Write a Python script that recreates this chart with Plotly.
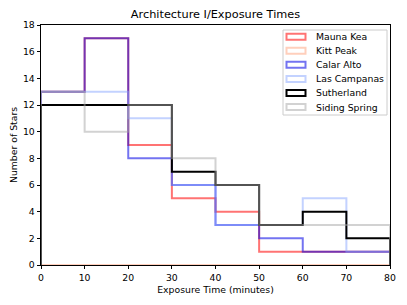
import plotly.graph_objects as go

bin_edges = [0, 10, 20, 30, 40, 50, 60, 70, 80]
series_names = ["Mauna Kea", "Kitt Peak", "Calar Alto", "Las Campanas", "Sutherland", "Siding Spring"]
mauna_kea = [13, 17, 9, 5, 4, 1, 1, 1]
kitt_peak = [0, 0, 0, 0, 0, 0, 0, 0]
calar_alto = [13, 17, 8, 6, 3, 2, 1, 1]
las_campanas = [13, 13, 11, 6, 3, 3, 5, 1]
sutherland = [12, 12, 12, 7, 6, 3, 4, 2]
siding_spring = [13, 10, 12, 8, 6, 3, 3, 3]
y_ticks = [0, 2, 4, 6, 8, 10, 12, 14, 16, 18]
x_ticks = [0, 10, 20, 30, 40, 50, 60, 70, 80]

colors = [
    "rgba(255,0,0,0.55)",
    "rgba(255,160,122,0.5)",
    "rgba(0,0,230,0.55)",
    "rgba(135,165,255,0.5)",
    "rgba(0,0,0,1)",
    "rgba(165,165,165,0.5)",
]
all_counts = [mauna_kea, kitt_peak, calar_alto, las_campanas, sutherland, siding_spring]

FONT = "DejaVu Sans"
OFF = 8  # page body margin
W, H = 407 - OFF, 305 - OFF
PL, PR, PT, PB = 41, 390, 25, 265  # plot area in screen pixels
L, R, T, B = PL - OFF, (W + OFF) - PR, PT - OFF, (H + OFF) - PB
pw, ph = PR - PL, PB - PT


def px(x):
    return (x - PL) / pw


def py(y):
    return (PB - y) / ph


fig = go.Figure()
for name, counts, col in zip(series_names, all_counts, colors):
    xs = [bin_edges[0]] + bin_edges[:-1] + [bin_edges[-1], bin_edges[-1]]
    ys = [0] + counts + [counts[-1], 0]
    fig.add_trace(go.Scatter(x=xs, y=ys, mode="lines", line=dict(color=col, width=2, shape="hv"),
                             name=name, showlegend=False, hoverinfo="skip"))

shapes = []
annotations = []
shapes.append(dict(type="rect", xref="paper", yref="paper", x0=px(283), x1=px(387), y0=py(115), y1=py(30),
                   line=dict(color="#cccccc", width=1), fillcolor="rgba(255,255,255,0.8)", layer="above"))
for i, (name, col) in enumerate(zip(series_names, colors)):
    cy = 36.7 + i * 14.06
    shapes.append(dict(type="rect", xref="paper", yref="paper", x0=px(286.5), x1=px(305.5),
                       y0=py(cy + 3), y1=py(cy - 3), line=dict(color=col, width=2),
                       fillcolor="rgba(0,0,0,0)", layer="above"))
    annotations.append(dict(xref="paper", yref="paper", x=px(313.5), y=py(cy), text=name, showarrow=False,
                            xanchor="left", yanchor="middle", font=dict(family=FONT, size=9.3, color="black")))

fig.update_layout(
    width=W, height=H,
    margin=dict(l=L, r=R, t=T, b=B, autoexpand=False),
    paper_bgcolor="white", plot_bgcolor="white",
    title=dict(text="Architecture I/Exposure Times", x=((PL + PR) / 2 - OFF) / W, xanchor="center",
               y=1 - (14.5 - OFF) / H, yanchor="middle", font=dict(family=FONT, size=11.3, color="black")),
    font=dict(family=FONT, size=9.3, color="black"),
    shapes=shapes,
    annotations=annotations,
    showlegend=False,
)
fig.update_xaxes(range=[0, 80], tickvals=x_ticks, ticks="outside", ticklen=3.5, tickwidth=0.8, tickcolor="black",
                 showline=True, linecolor="black", linewidth=0.8, mirror=True, showgrid=False, zeroline=False,
                 automargin=False,
                 title=dict(text="Exposure Time (minutes)", font=dict(family=FONT, size=9.3), standoff=4),
                 tickfont=dict(family=FONT, size=9.3))
fig.update_yaxes(range=[0, 18], tickvals=y_ticks, ticks="outside", ticklen=3.5, tickwidth=0.8, tickcolor="black",
                 showline=True, linecolor="black", linewidth=0.8, mirror=True, showgrid=False, zeroline=False,
                 automargin=False,
                 title=dict(text="Number of Stars", font=dict(family=FONT, size=9.3), standoff=6),
                 tickfont=dict(family=FONT, size=9.3))

fig.write_html("out.html")
